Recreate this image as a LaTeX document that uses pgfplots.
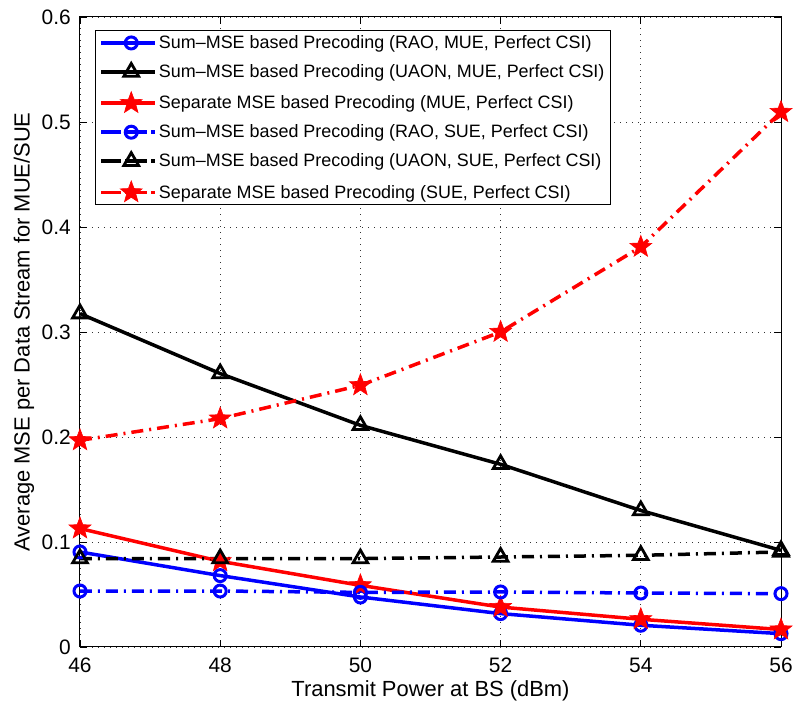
\documentclass[border=0pt]{standalone}
\usepackage{pgfplots}
\pgfplotsset{compat=1.18}
\usepackage{fontspec}
\setmainfont{Liberation Sans}
\pgfdeclareplotmark{pentagram}{%
  \pgfpathmoveto{\pgfpointpolar{90}{\pgfplotmarksize}}%
  \pgfpathlineto{\pgfpointpolar{126}{0.42\pgfplotmarksize}}%
  \pgfpathlineto{\pgfpointpolar{162}{\pgfplotmarksize}}%
  \pgfpathlineto{\pgfpointpolar{198}{0.42\pgfplotmarksize}}%
  \pgfpathlineto{\pgfpointpolar{234}{\pgfplotmarksize}}%
  \pgfpathlineto{\pgfpointpolar{270}{0.42\pgfplotmarksize}}%
  \pgfpathlineto{\pgfpointpolar{306}{\pgfplotmarksize}}%
  \pgfpathlineto{\pgfpointpolar{342}{0.42\pgfplotmarksize}}%
  \pgfpathlineto{\pgfpointpolar{18}{\pgfplotmarksize}}%
  \pgfpathlineto{\pgfpointpolar{54}{0.42\pgfplotmarksize}}%
  \pgfpathclose
  \pgfusepathqfillstroke
}
\tikzset{
  mdashdot/.style={dash pattern=on 12bp off 6bp on 2bp off 6bp},
  pl/.style={line width=3.5bp},
  circ/.style={mark=o, mark size=6bp, mark options={solid, line width=3bp}},
  tri/.style={mark=triangle, mark size=8.5bp, mark options={solid, line width=2.8bp}},
  pstar/.style={mark=pentagram, mark size=11.5bp, mark options={solid, fill=red, line width=0.6bp}},
}
\begin{document}
\begin{tikzpicture}
\begin{axis}[
  scale only axis,
  width=701bp, height=630bp,
  xmin=46, xmax=56, ymin=0, ymax=0.6,
  xtick={46,48,50,52,54,56},
  ytick={0,0.1,0.2,0.3,0.4,0.5,0.6},
  yticklabel style={/pgf/number format/fixed, inner sep=1bp, xshift=-8bp},
  xticklabel style={inner sep=1bp, yshift=-10bp},
  /pgf/number format/assume math mode=true,
  tick align=inside,
  major tick length=7bp,
  grid=major,
  major grid style={black!80, dash pattern=on 1bp off 5bp, line width=0.8bp},
  axis line style={black, line width=1bp},
  every tick/.style={black, line width=0.8bp},
  tick label style={font=\fontsize{21}{25}\selectfont},
  xlabel={Transmit Power at BS (dBm)},
  ylabel={Average MSE per Data Stream for MUE/SUE},
  xlabel style={font=\fontsize{22}{26}\selectfont, at={(axis description cs:0.5,-0.0698)}, anchor=center},
  ylabel style={font=\fontsize{22}{26}\selectfont, at={(axis description cs:-0.0799,0.5)}, anchor=center},
  legend style={at={(0.0214,0.979)}, anchor=north west,
    font=\fontsize{18}{21}\selectfont, draw=black, line width=1bp,
    row sep=10.5bp, inner xsep=4bp, inner ysep=3bp, cells={anchor=west}},
  legend image code/.code={%
    \path (0bp,0bp) -- (54bp,0bp);
    \draw[mark repeat=2,mark phase=2] plot coordinates {(6bp,0bp) (30bp,0bp) (54bp,0bp)};},
]
\addplot[blue, pl, circ] coordinates {
(46,0.0905) (48,0.068) (50,0.0476) (52,0.0318) (54,0.0207) (56,0.0127)};
\addlegendentry{Sum\textendash MSE based Precoding (RAO, MUE, Perfect CSI)}
\addplot[black, pl, tri] coordinates {
(46,0.3175) (48,0.2604) (50,0.2111) (52,0.174) (54,0.130) (56,0.092)};
\addlegendentry{Sum\textendash MSE based Precoding (UAON, MUE, Perfect CSI)}
\addplot[red, pl, pstar] coordinates {
(46,0.1128) (48,0.0816) (50,0.0587) (52,0.038) (54,0.0264) (56,0.0166)};
\addlegendentry{Separate MSE based Precoding (MUE, Perfect CSI)}
\addplot[blue, pl, mdashdot, circ] coordinates {
(46,0.0533) (48,0.0533) (50,0.052) (52,0.0524) (54,0.0514) (56,0.0508)};
\addlegendentry{Sum\textendash MSE based Precoding (RAO, SUE, Perfect CSI)}
\addplot[black, pl, mdashdot, tri] coordinates {
(46,0.0842) (48,0.0842) (50,0.0842) (52,0.0857) (54,0.0873) (56,0.0905)};
\addlegendentry{Sum\textendash MSE based Precoding (UAON, SUE, Perfect CSI)}
\addplot[red, pl, mdashdot, pstar] coordinates {
(46,0.1968) (48,0.2175) (50,0.2492) (52,0.300) (54,0.381) (56,0.5095)};
\addlegendentry{Separate MSE based Precoding (SUE, Perfect CSI)}
\end{axis}
\path ([xshift=-80bp,yshift=-60bp]current axis.south west) rectangle ([xshift=14bp,yshift=17bp]current axis.north east);
\end{tikzpicture}
\end{document}
